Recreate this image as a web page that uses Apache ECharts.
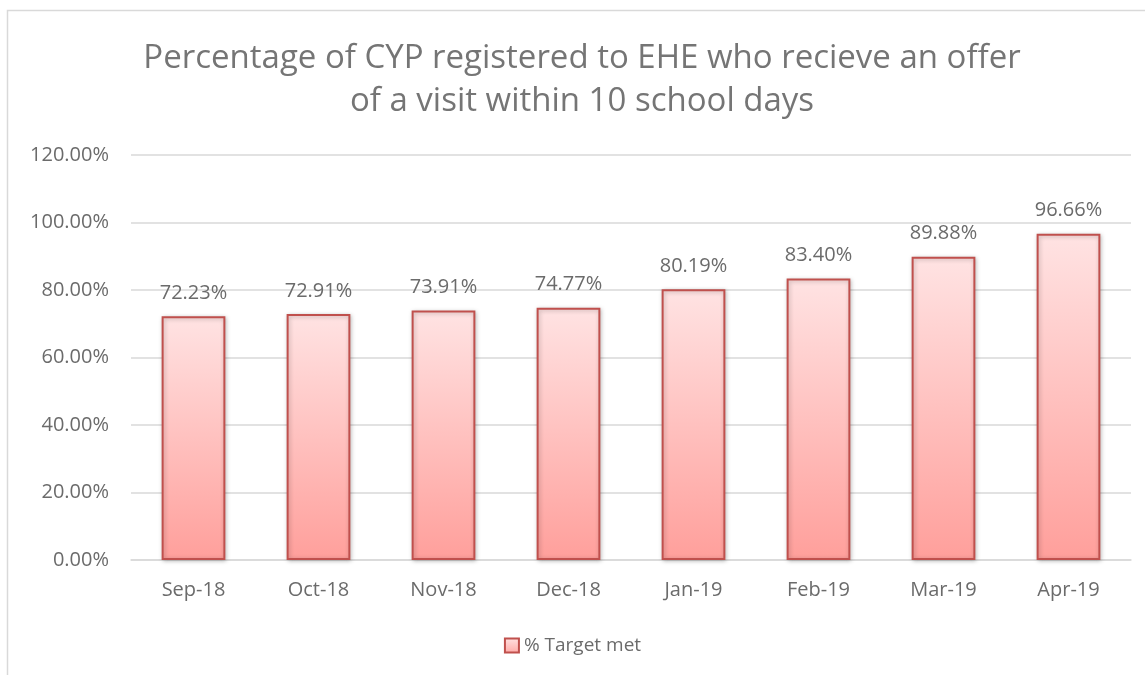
<!DOCTYPE html>
<html><head><meta charset="utf-8">
<script src="https://cdn.jsdelivr.net/npm/echarts@6/dist/echarts.min.js"></script>
<style>html,body{margin:0;padding:0;background:#fff}#c{width:1145px;height:675px}</style>
</head><body><div id="c"></div>
<script>
const categories = ['Sep-18','Oct-18','Nov-18','Dec-18','Jan-19','Feb-19','Mar-19','Apr-19'];
const targetMet = [72.23, 72.91, 73.91, 74.77, 80.19, 83.40, 89.88, 96.66];
const seriesName = '% Target met';
const titleText = 'Percentage of CYP registered to EHE who recieve an offer\nof a visit within 10 school days';

const chart = echarts.init(document.getElementById('c'));
const font = 'Open Sans';
const barFill = new echarts.graphic.LinearGradient(0,0,0,1,[{offset:0,color:'#FFE3E3'},{offset:1,color:'#FF9F9B'}]);
chart.setOption({
  animation:false,
  textStyle:{fontFamily:font},
  graphic:[
    {type:'rect',shape:{x:7.5,y:10.5,width:1150,height:680},style:{fill:'none',stroke:'#D9D9D9',lineWidth:1.5},silent:true},
    {type:'text',x:582,y:37,silent:true,style:{text:titleText,align:'center',verticalAlign:'top',
      font:'normal 33px "Open Sans"',fill:'#757575',lineHeight:43}}
  ],
  legend:{bottom:15,left:'center',itemWidth:14,itemHeight:14,itemGap:6,
    textStyle:{fontFamily:font,fontSize:19,color:'#6b6b6b'},
    data:[{name:seriesName,icon:'rect',itemStyle:{color:new echarts.graphic.LinearGradient(0,0,0,1,[{offset:0,color:'#FFE3E3'},{offset:1,color:'#FFA9A6'}]),borderColor:'#C0504D',borderWidth:2}}]},
  grid:{left:131,right:14,top:155,bottom:115},
  xAxis:{type:'category',data:categories,
    axisLine:{lineStyle:{color:'#D9D9D9',width:1.5}},axisTick:{show:false},
    axisLabel:{fontFamily:font,fontSize:20,color:'#6b6b6b',margin:20}},
  yAxis:{type:'value',min:0,max:120,interval:20,
    axisLine:{show:false},axisTick:{show:false},
    splitLine:{lineStyle:{color:'#D9D9D9',width:1.5}},
    axisLabel:{fontFamily:font,fontSize:20,color:'#6b6b6b',margin:22,formatter:v=>v.toFixed(2)+'%'}},
  series:[{name:seriesName,type:'bar',data:targetMet,barWidth:'51%',
    itemStyle:{color:barFill,borderColor:'#C0504D',borderWidth:2,shadowColor:'rgba(0,0,0,0.25)',shadowBlur:4,shadowOffsetX:1,shadowOffsetY:1},
    label:{show:true,position:'top',distance:13,fontFamily:font,fontSize:20,color:'#6b6b6b',formatter:p=>p.value.toFixed(2)+'%'}}]
});
</script></body></html>
